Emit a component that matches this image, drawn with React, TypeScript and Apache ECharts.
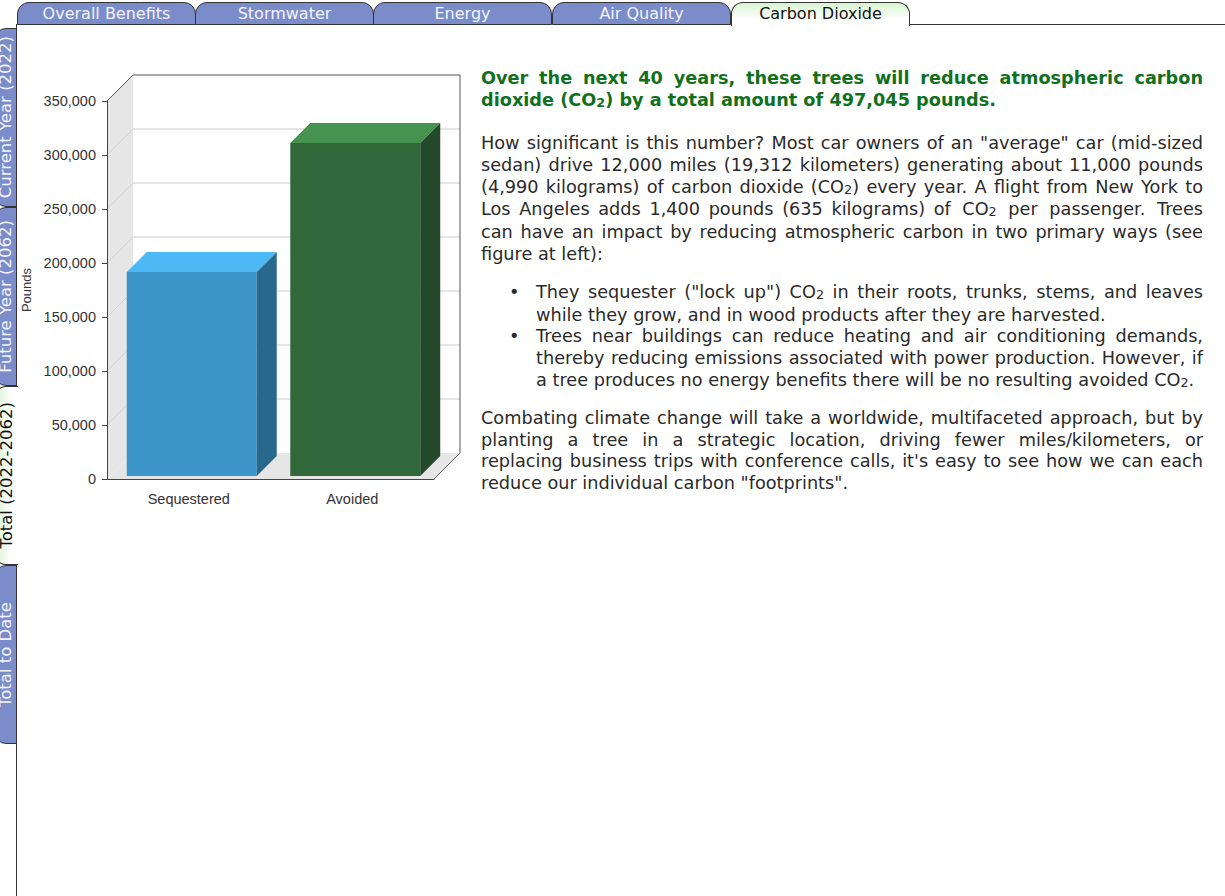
import React, { useEffect, useRef } from "react";
import * as echarts from "echarts";

// ---------- data ----------
const categories = ["Sequestered", "Avoided"];
const values = [188800, 308245];
const yTicks = [0, 50000, 100000, 150000, 200000, 250000, 300000, 350000];
const topTabs = ["Overall Benefits", "Stormwater", "Energy", "Air Quality", "Carbon Dioxide"];
const activeTopTab = "Carbon Dioxide";
const sideTabs = ["Current Year (2022)", "Future Year (2062)", "Total (2022-2062)", "Total to Date"];
const activeSideTab = "Total (2022-2062)";

// ---------- styles ----------
const frontColors = ["#3c95c9", "#30683a"];
const topColors = ["#4db8f6", "#46924f"];
const sideColors = ["#29688d", "#23482a"];
const DEPTH = 26;
const BAR_DEPTH = 20;
const BAR_OFF = 3;
const AX_FONT = '"Liberation Sans", Arial, sans-serif';
const PAGE_FONT = '"DejaVu Sans", Verdana, sans-serif';
const TAB_BLUE = "#7a8cc9";

const fmt = (v: number) => v.toLocaleString("en-US");
const total = values.reduce((a, b) => a + b, 0);

function Chart() {
  const ref = useRef<HTMLDivElement>(null);
  useEffect(() => {
    if (!ref.current) return;
    const chart = echarts.init(ref.current, undefined, { renderer: "svg" });
    const wallsRender = (params: any, api: any) => {
      const cs = params.coordSys;
      const x0 = cs.x, x1 = cs.x + cs.width, yT = cs.y, yB = cs.y + cs.height;
      const D = DEPTH;
      const children: any[] = [
        { type: "polygon", shape: { points: [[x0 + D, yT - D], [x1 + D, yT - D], [x1 + D, yB - D], [x0 + D, yB - D]] }, style: { fill: "#ffffff" } },
        { type: "polygon", shape: { points: [[x0, yT], [x0 + D, yT - D], [x0 + D, yB - D], [x0, yB]] }, style: { fill: "#e6e6e6" } },
        { type: "polygon", shape: { points: [[x0, yB], [x0 + D, yB - D], [x1 + D, yB - D], [x1, yB]] }, style: { fill: "#e6e6e6" } },
      ];
      yTicks.forEach((t) => {
        const y = api.coord([0, t])[1];
        if (t > 0 && t < yTicks[yTicks.length - 1]) {
          children.push({ type: "line", shape: { x1: x0 + D, y1: y - D, x2: x1 + D, y2: y - D }, style: { stroke: "#cccccc", lineWidth: 1 } });
        }
        if (t > 0) {
          children.push({ type: "line", shape: { x1: x0, y1: y, x2: x0 + D, y2: y - D }, style: { stroke: "#d2d2d2", lineWidth: 1 } });
        }
      });
      const dark = { stroke: "#555555", lineWidth: 1 };
      children.push(
        { type: "line", shape: { x1: x0, y1: yT, x2: x0 + D, y2: yT - D }, style: dark },
        { type: "line", shape: { x1: x0 + D, y1: yT - D, x2: x1 + D, y2: yT - D }, style: dark },
        { type: "line", shape: { x1: x1 + D, y1: yT - D, x2: x1 + D, y2: yB - D }, style: dark },
        { type: "line", shape: { x1: x1, y1: yB, x2: x1 + D, y2: yB - D }, style: dark }
      );
      return { type: "group", children };
    };
    const barRender = (params: any, api: any) => {
      const i = api.value(0);
      const v = api.value(1);
      const [cx, cyTop] = api.coord([i, v]);
      const cyBot = api.coord([i, 0])[1];
      const band = api.size([1, 0])[0];
      const w = band * 0.795;
      const xl = cx - w / 2 + BAR_OFF, xr = cx + w / 2 + BAR_OFF;
      const yt = cyTop - BAR_OFF, yb = cyBot - BAR_OFF;
      const d = BAR_DEPTH;
      return {
        type: "group",
        children: [
          { type: "polygon", shape: { points: [[xl, yt], [xr, yt], [xr, yb], [xl, yb]] }, style: { fill: frontColors[i] } },
          { type: "polygon", shape: { points: [[xl, yt], [xl + d, yt - d], [xr + d, yt - d], [xr, yt]] }, style: { fill: topColors[i] } },
          { type: "polygon", shape: { points: [[xr, yt], [xr + d, yt - d], [xr + d, yb - d], [xr, yb]] }, style: { fill: sideColors[i] } },
        ],
      };
    };
    chart.setOption({
      animation: false,
      grid: { left: 87, top: 61, width: 327, height: 378, containLabel: false, outerBoundsMode: "none" },
      xAxis: {
        type: "category",
        data: categories,
        z: 10,
        axisLine: { lineStyle: { color: "#444" } },
        axisTick: { alignWithLabel: true, length: 5, lineStyle: { color: "#444" } },
        axisLabel: { color: "#333", fontSize: 14.5, fontFamily: AX_FONT, margin: 12 },
        splitLine: { show: false },
      },
      yAxis: {
        type: "value",
        min: 0,
        max: 350000,
        interval: 50000,
        z: 10,
        name: "Pounds",
        nameLocation: "middle",
        nameRotate: 90,
        nameGap: 65,
        nameTextStyle: { color: "#333", fontSize: 13, fontFamily: AX_FONT },
        axisLine: { show: true, lineStyle: { color: "#444" } },
        axisTick: { show: true, length: 5, lineStyle: { color: "#444" } },
        axisLabel: { color: "#333", fontSize: 14.5, fontFamily: AX_FONT, margin: 11, formatter: (v: number) => fmt(v) },
        splitLine: { show: false },
      },
      series: [
        { type: "custom", z: 1, silent: true, data: [[0, 0]], renderItem: wallsRender, clip: false },
        { type: "custom", z: 2, data: values.map((v, i) => [i, v]), encode: { x: 0, y: 1 }, renderItem: barRender, clip: false },
      ],
    });
    return () => chart.dispose();
  }, []);
  return <div ref={ref} style={{ position: "absolute", left: 20, top: 40, width: 460, height: 490 }} />;
}

const Sub2 = () => <span style={{ fontSize: "0.72em", position: "relative", top: "1px" }}>2</span>;
const Bullet = () => <span style={{ position: "absolute", left: -27, top: 0 }}>•</span>;

export default function App() {
  const pStyle: React.CSSProperties = { margin: 0, lineHeight: "21.8px" };
  const liStyle: React.CSSProperties = { position: "relative", listStyle: "none" };
  return (
    <div style={{ position: "absolute", left: 0, top: 0, width: 1225, height: 896, background: "#fff", overflow: "hidden", fontFamily: PAGE_FONT }}>
      {/* left border of content */}
      <div style={{ position: "absolute", left: 16, top: 24, width: 1, height: 872, background: "#333" }} />
      {/* top line right of tabs */}
      <div style={{ position: "absolute", left: 909, top: 24, width: 316, height: 1, background: "#333" }} />
      {topTabs.map((t, i) => {
        const active = t === activeTopTab;
        const lefts = [17, 195, 373, 552, 731];
        return (
          <div
            key={t}
            style={{
              position: "absolute",
              left: lefts[i],
              top: 2,
              width: 179,
              height: active ? 24 : 23,
              boxSizing: "border-box",
              border: "1px solid #333",
              borderBottom: active ? "none" : "1px solid #333",
              borderRadius: "12px 12px 0 0",
              background: active ? "linear-gradient(to bottom, #d8f4cf, #ffffff 70%)" : TAB_BLUE,
              color: active ? "#111" : "#f4f4ff",
              fontSize: 16,
              lineHeight: "21px",
              textAlign: "center",
              whiteSpace: "nowrap",
            }}
          >
            {t}
          </div>
        );
      })}
      {sideTabs.map((t, i) => {
        const active = t === activeSideTab;
        const tops = [28, 207, 386, 565];
        return (
          <div
            key={t}
            style={{
              position: "absolute",
              left: -6,
              top: tops[i],
              width: active ? 24 : 23,
              height: 179,
              boxSizing: "border-box",
              border: "1px solid #333",
              borderRight: active ? "none" : "1px solid #333",
              borderRadius: "12px 0 0 12px",
              background: active ? "linear-gradient(to right, #d8f4cf, #ffffff 70%)" : TAB_BLUE,
              color: active ? "#111" : "#f4f4ff",
              display: "flex",
              alignItems: "center",
              justifyContent: "center",
            }}
          >
            <span style={{ writingMode: "vertical-rl", transform: "rotate(180deg)", fontSize: 16.5, lineHeight: "21px", whiteSpace: "nowrap" }}>{t}</span>
          </div>
        );
      })}
      <Chart />
      <div style={{ position: "absolute", left: 481, top: 67, width: 722, fontSize: "17.7px", color: "#2a2a2a", textAlign: "justify" }}>
        <div style={{ fontWeight: "bold", color: "#11701c", lineHeight: "22px" }}>
          Over the next 40 years, these trees will reduce atmospheric carbon dioxide (CO<Sub2 />) by a total amount of {fmt(total)} pounds.
        </div>
        <p style={{ ...pStyle, marginTop: 20 }}>
          How significant is this number? Most car owners of an "average" car (mid-sized sedan) drive 12,000 miles (19,312 kilometers) generating about 11,000 pounds (4,990 kilograms) of carbon dioxide (CO<Sub2 />) every year. A flight from New York to Los Angeles adds 1,400 pounds (635 kilograms) <span style={{ wordSpacing: "3px" }}>of CO<Sub2 /> per passenger. Trees </span>can have an impact by reducing atmospheric carbon in two primary ways (see figure at left):
        </p>
        <ul style={{ ...pStyle, marginTop: 16, paddingLeft: 55 }}>
          <li style={liStyle}><Bullet />They sequester ("lock up") CO<Sub2 /> in their roots, trunks, stems, and leaves while they grow, and in wood products after they are harvested.</li>
          <li style={liStyle}><Bullet />Trees near buildings can reduce heating and air conditioning demands, thereby reducing emissions associated with power production. However, if a tree produces no energy benefits there will be no resulting avoided CO<Sub2 />.</li>
        </ul>
        <p style={{ ...pStyle, marginTop: 15 }}>
          Combating climate change will take a worldwide, multifaceted approach, but by planting a tree in a strategic location, driving fewer miles/kilometers, or replacing business trips with conference calls, it's easy to see how we can each reduce our individual carbon "footprints".
        </p>
      </div>
    </div>
  );
}
